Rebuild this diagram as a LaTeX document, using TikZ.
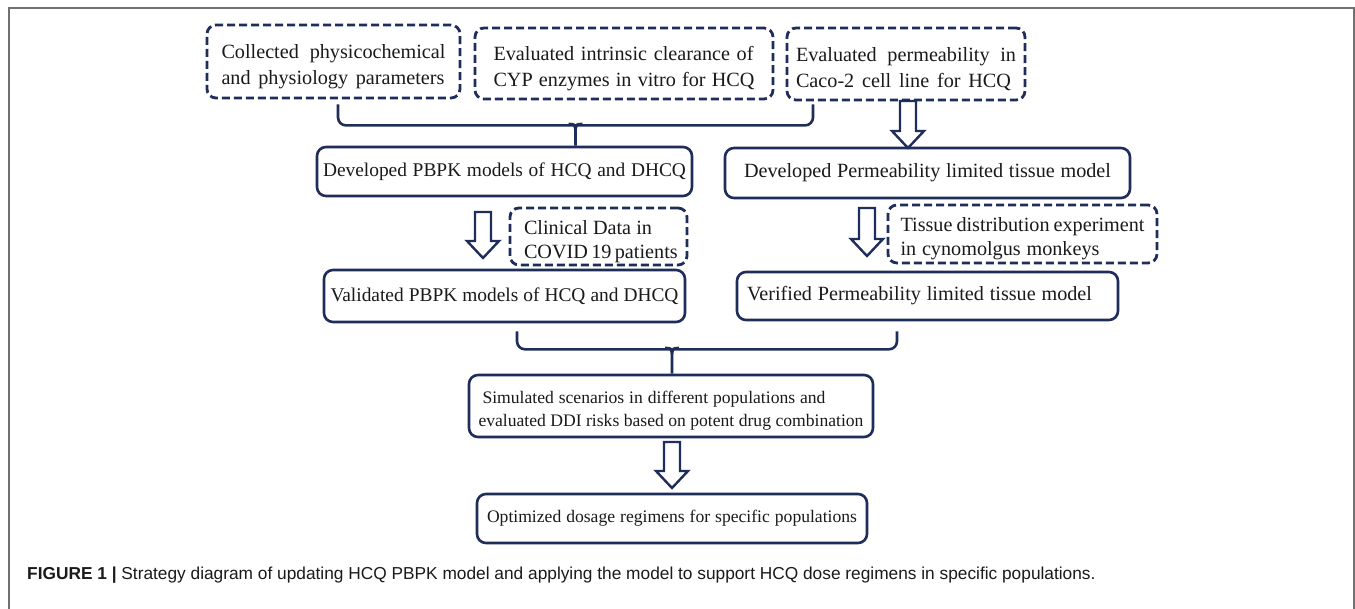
\documentclass[tikz,border=0pt]{standalone}
\usepackage{fontspec}
\setmainfont{Liberation Serif}
\newfontfamily\capfont{Liberation Sans}
\usetikzlibrary{calc}
\definecolor{navy}{HTML}{1F2D5A}
\definecolor{framegray}{HTML}{707070}
\definecolor{txtcol}{HTML}{1A1A1A}
\newcommand\harrowdraw[2]{\draw[harrow] let \p1=(#1), \p2=(#2) in
  (\x1-8pt,\y1) -- (\x1+8pt,\y1) -- (\x1+8pt,\y2+17pt) -- (\x1+16pt,\y2+17pt)
  -- (\x1,\y2) -- (\x1-16pt,\y2+17pt) -- (\x1-8pt,\y2+17pt) -- cycle;}
\newcommand\dnbig{\rule{0pt}{24pt}}
\newcommand\dnsmall{\rule{0pt}{22pt}}
\begin{document}
\begin{tikzpicture}[x=1pt,y=-1pt,
  solidbox/.style={draw=navy, line width=2.6pt, rounded corners=9pt, inner sep=0pt, fill=white, align=left, text=txtcol},
  dashbox/.style={draw=navy, line width=2.8pt, rounded corners=9pt, dash pattern=on 8pt off 4pt, inner sep=0pt, fill=white, align=left, text=txtcol},
  brace/.style={draw=navy, line width=2.6pt, rounded corners=8pt},
  harrow/.style={draw=navy, line width=2.4pt, fill=white, line join=miter},
  bigtxt/.style={font=\fontsize{20.2}{26}\selectfont},
  tighttxt/.style={font=\fontsize{19.4}{26}\selectfont},
  midtxt/.style={font=\fontsize{20.2}{24}\selectfont},
  smalltxt/.style={font=\fontsize{17.6}{23}\selectfont}]
\useasboundingbox (0,0) rectangle (1355,608);
\fill[white] (0,0) rectangle (1355,608);
% frame
\draw[framegray, line width=1.8pt] (9,610) -- (9,8) -- (1354,8) -- (1354,610);

% top row
\node[dashbox, bigtxt, minimum width=253pt, minimum height=73pt] (A) at (333.5,61.5)
  {\dnbig\makebox[224pt][s]{Collected physicochemical}\\\makebox[223pt][s]{and physiology parameters}};
\node[dashbox, bigtxt, minimum width=298pt, minimum height=71pt] (B) at (624,63.5)
  {\dnbig\makebox[260pt][s]{Evaluated intrinsic clearance of}\\\makebox[261pt][s]{CYP enzymes in vitro for HCQ}};
\node[dashbox, bigtxt, minimum width=238pt, minimum height=72pt] (C) at (906,64)
  {\dnbig\makebox[220pt][s]{Evaluated permeability in}\\\makebox[215pt][s]{Caco-2 cell line for HCQ}};

% second row
\node[solidbox, tighttxt, minimum width=375pt, minimum height=49pt] (D) at (504.5,171.5)
  {\makebox[363pt][s]{Developed PBPK models of HCQ and DHCQ}};
\node[solidbox, bigtxt, minimum width=405pt, minimum height=50pt] (E) at (927.5,173)
  {\makebox[367pt][s]{Developed Permeability limited tissue model}};

% side data boxes
\node[dashbox, midtxt, minimum width=177pt, minimum height=57pt] (G) at (598.5,236.5)
  {\dnbig\makebox[128pt][s]{Clinical Data in}\\\makebox[149pt][s]{COVID 19 patients}};
\node[dashbox, midtxt, minimum width=269pt, minimum height=58pt] (I) at (1022.5,234)
  {\dnbig\makebox[244pt][s]{Tissue distribution experiment}\\\makebox[199pt][s]{in cynomolgus monkeys}};

% third row
\node[solidbox, tighttxt, minimum width=361pt, minimum height=52pt] (F) at (504.5,296)
  {\makebox[348pt][s]{Validated PBPK models of HCQ and DHCQ}};
\node[solidbox, bigtxt, minimum width=381pt, minimum height=48pt] (H) at (927.5,296)
  {\makebox[345pt][s]{Verified Permeability limited tissue model}\hspace*{16pt}};

% bottom
\node[solidbox, smalltxt, minimum width=404pt, minimum height=62pt] (J) at (671,406)
  {\dnsmall\hspace*{4pt}\makebox[343pt][s]{Simulated scenarios in different populations and}\\\makebox[385pt][s]{evaluated DDI risks based on potent drug combination}};
\node[solidbox, smalltxt, minimum width=390pt, minimum height=49pt] (K) at (672,518.5)
  {\makebox[370pt][s]{Optimized dosage regimens for specific populations}};

% brace 1 (A, B, C -> D)
\draw[brace] ([xshift=4.5pt,yshift=-5pt]A.south) |- ([xshift=-93pt,yshift=-24pt]C.south) -- ([xshift=-93pt,yshift=-3pt]C.south);
\coordinate (b1) at (575.5,124);
\draw[brace, rounded corners=0pt] ([xshift=-7pt]b1) .. controls ([xshift=-1pt]b1) .. ([yshift=-6pt]b1);
\draw[brace, rounded corners=0pt] ([xshift=7pt]b1) .. controls ([xshift=1pt]b1) .. ([yshift=-6pt]b1) -- (b1 |- D.north);

% brace 2 (F, H -> J)
\draw[brace] ([xshift=12.5pt,yshift=-8pt]F.south) |- ([xshift=-30.5pt,yshift=-28pt]H.south) -- ([xshift=-30.5pt,yshift=-10pt]H.south);
\coordinate (b2) at (672,348);
\draw[brace, rounded corners=0pt] ([xshift=-7pt]b2) .. controls ([xshift=-1pt]b2) .. ([yshift=-6pt]b2);
\draw[brace, rounded corners=0pt] ([xshift=7pt]b2) .. controls ([xshift=1pt]b2) .. ([yshift=-6pt]b2) -- (b2 |- J.north);

% hollow arrows
\coordinate (h1s) at (908,101);  \coordinate (h1e) at (908,148);
\coordinate (h2s) at (483,212);  \coordinate (h2e) at (483,258);
\coordinate (h3s) at (867,208);  \coordinate (h3e) at (867,256);
\coordinate (h4s) at (672,442);  \coordinate (h4e) at (672,488);
\harrowdraw{h1s}{h1e}
\harrowdraw{h2s}{h2e}
\harrowdraw{h3s}{h3e}
\harrowdraw{h4s}{h4e}

% caption
\node[anchor=west, inner sep=0pt, text=txtcol, font=\capfont\fontsize{17.3}{20}\selectfont] (cap) at (27,575)
  {\textbf{FIGURE 1} \textbf{|} Strategy diagram of updating HCQ PBPK model and applying the model to support HCQ dose regimens in specific populations.};
\end{tikzpicture}
\end{document}
